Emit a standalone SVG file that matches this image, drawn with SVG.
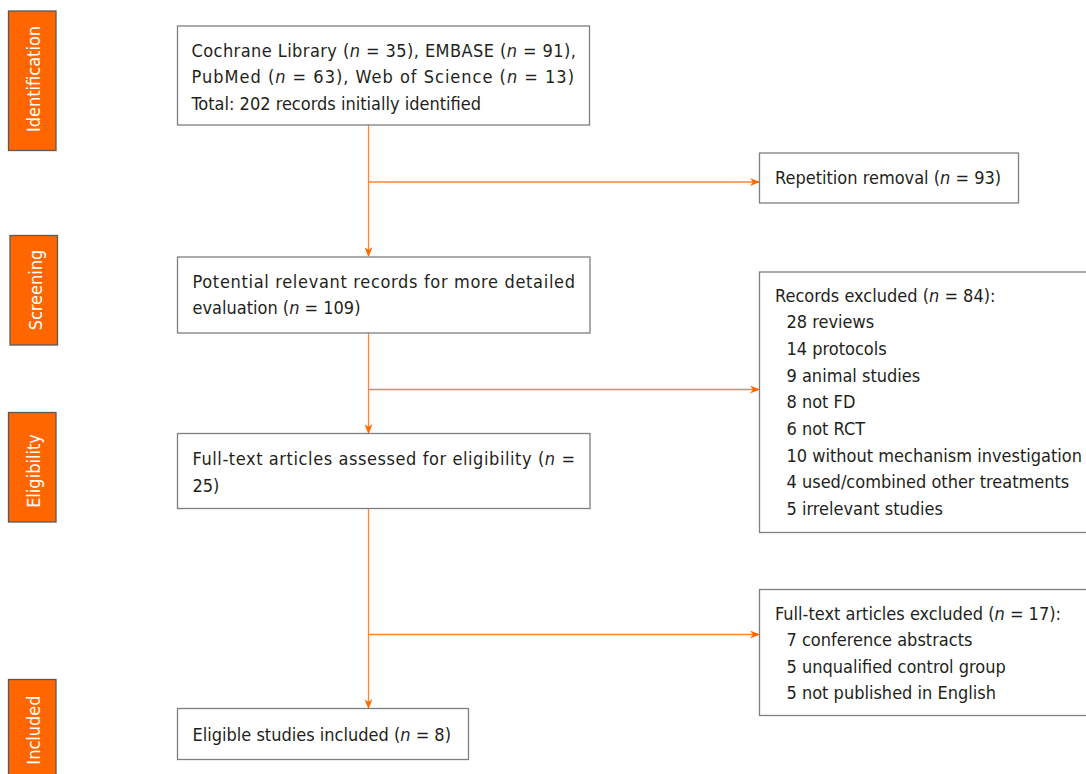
<svg xmlns="http://www.w3.org/2000/svg" width="1086" height="774" viewBox="0 0 1086 774">
<defs>
<marker id="ah" markerWidth="10" markerHeight="8" refX="9" refY="4" orient="auto" markerUnits="userSpaceOnUse">
<path d="M0,0 L10,4 L0,8 L3,4 z" fill="#FF6600"/>
</marker>
<style>
.box{fill:#fff;stroke:#7f7f7f;stroke-width:1.3}
.lab{fill:#FF6600;stroke:#595959;stroke-width:1.3}
.t{font-family:"DejaVu Sans Condensed","DejaVu Sans",sans-serif;font-stretch:condensed;font-size:18px;fill:#231F20}
.lt{font-family:"DejaVu Sans Condensed","DejaVu Sans",sans-serif;font-stretch:condensed;font-size:18px;fill:#fff;text-anchor:middle}
.i{font-style:italic}
.c{fill:none;stroke:#FF8533;stroke-width:1.3}
</style>
</defs>
<rect width="1086" height="774" fill="#fff"/>
<g id="stage-identification"><rect class="lab" x="8.5" y="11" width="47.5" height="139.5"/><text class="lt" transform="translate(40,79) rotate(-90)">Identification</text></g>
<g id="stage-screening"><rect class="lab" x="10" y="235.5" width="47.5" height="109.5"/><text class="lt" transform="translate(42,290) rotate(-90)">Screening</text></g>
<g id="stage-eligibility"><rect class="lab" x="8.5" y="412.5" width="47.5" height="109.5"/><text class="lt" transform="translate(40,471) rotate(-90)">Eligibility</text></g>
<g id="stage-included"><rect class="lab" x="8.5" y="679.5" width="47.5" height="100"/><text class="lt" transform="translate(40,730) rotate(-90)">Included</text></g>
<g id="connectors">
<line class="c" x1="368.5" y1="125" x2="368.5" y2="256" marker-end="url(#ah)"/>
<line class="c" x1="368.5" y1="182" x2="759" y2="182" marker-end="url(#ah)"/>
<line class="c" x1="368.5" y1="333" x2="368.5" y2="433" marker-end="url(#ah)"/>
<line class="c" x1="368.5" y1="389.5" x2="759" y2="389.5" marker-end="url(#ah)"/>
<line class="c" x1="368.5" y1="508" x2="368.5" y2="708" marker-end="url(#ah)"/>
<line class="c" x1="368.5" y1="634.5" x2="759" y2="634.5" marker-end="url(#ah)"/>
</g>
<g id="n-identified"><rect class="box" x="177.5" y="26" width="412" height="99"/>
<text class="t" x="191.5" y="56.5" textLength="384.5" lengthAdjust="spacing">Cochrane Library (<tspan class="i">n</tspan> = 35), EMBASE (<tspan class="i">n</tspan> = 91),</text>
<text class="t" x="191.5" y="83" textLength="382.5" lengthAdjust="spacing">PubMed (<tspan class="i">n</tspan> = 63), Web of Science (<tspan class="i">n</tspan> = 13)</text>
<text class="t" x="191.5" y="109.5">Total: 202 records initially identified</text></g>
<g id="n-repetition"><rect class="box" x="759.5" y="153" width="259" height="50"/>
<text class="t" x="775" y="184">Repetition removal (<tspan class="i">n</tspan> = 93)</text></g>
<g id="n-screened"><rect class="box" x="177.5" y="257" width="412.5" height="76"/>
<text class="t" x="192.5" y="287.5" textLength="382.5" lengthAdjust="spacing">Potential relevant records for more detailed</text>
<text class="t" x="192.5" y="314">evaluation (<tspan class="i">n</tspan> = 109)</text></g>
<g id="n-records-excluded"><rect class="box" x="759.5" y="272" width="340" height="260.5"/>
<text class="t" x="775" y="301.5">Records excluded (<tspan class="i">n</tspan> = 84):</text>
<text class="t" x="786.5" y="328">28 reviews</text>
<text class="t" x="786.5" y="355">14 protocols</text>
<text class="t" x="786.5" y="381.5">9 animal studies</text>
<text class="t" x="786.5" y="408">8 not FD</text>
<text class="t" x="786.5" y="435">6 not RCT</text>
<text class="t" x="786.5" y="461.5">10 without mechanism investigation</text>
<text class="t" x="786.5" y="488">4 used/combined other treatments</text>
<text class="t" x="786.5" y="515">5 irrelevant studies</text></g>
<g id="n-fulltext"><rect class="box" x="177.5" y="433.5" width="412.5" height="75"/>
<text class="t" x="192.5" y="465" textLength="382.5" lengthAdjust="spacing">Full-text articles assessed for eligibility (<tspan class="i">n</tspan> =</text>
<text class="t" x="192.5" y="491.5">25)</text></g>
<g id="n-fulltext-excluded"><rect class="box" x="759.5" y="589.5" width="340" height="126"/>
<text class="t" x="775" y="619.5">Full-text articles excluded (<tspan class="i">n</tspan> = 17):</text>
<text class="t" x="786.5" y="646">7 conference abstracts</text>
<text class="t" x="786.5" y="672.5">5 unqualified control group</text>
<text class="t" x="786.5" y="699">5 not published in English</text></g>
<g id="n-included"><rect class="box" x="177.5" y="708.5" width="291" height="51"/>
<text class="t" x="192.5" y="740.5">Eligible studies included (<tspan class="i">n</tspan> = 8)</text></g>
</svg>
